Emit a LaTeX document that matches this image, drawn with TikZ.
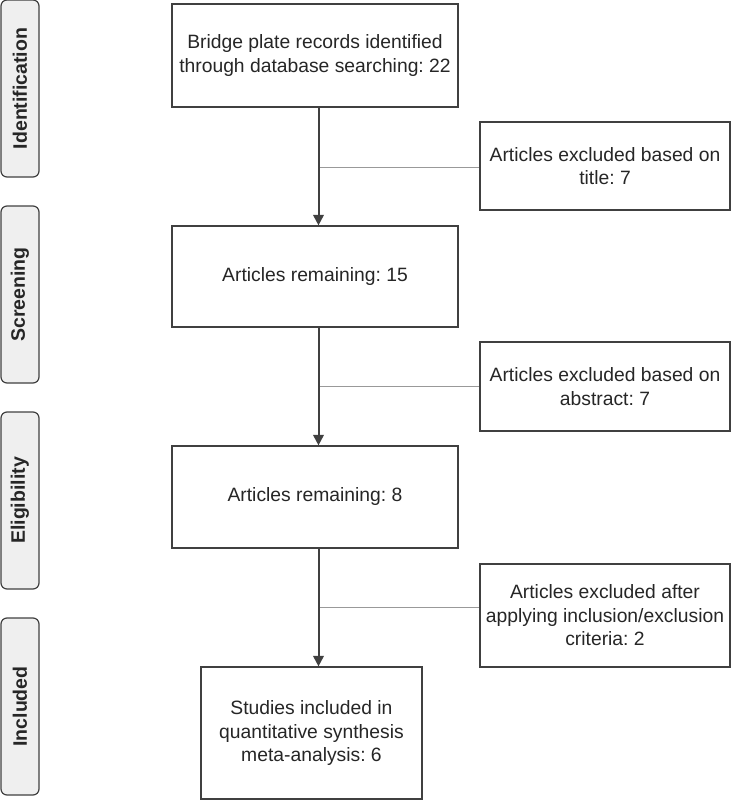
\documentclass[tikz,border=0pt]{standalone}
\usepackage{fontspec}
\setmainfont{Liberation Sans}
\usetikzlibrary{arrows.meta}
\definecolor{txt}{HTML}{262626}
\definecolor{edge}{HTML}{404040}
\definecolor{thin}{HTML}{999999}
\definecolor{barfill}{HTML}{EFEFEF}
\begin{document}
\frenchspacing
\begin{tikzpicture}[x=1pt,y=-1pt,
  mainbox/.style={draw=edge,line width=1.2pt,fill=white,text=txt,align=center,inner sep=0pt,
    font=\fontsize{19.3}{23.5}\selectfont\frenchspacing},
  sidebar/.style={draw=edge,line width=1.2pt,fill=barfill,rounded corners=6pt,text=txt,inner sep=0pt,
    minimum width=38pt,minimum height=177pt,font=\fontsize{19.5}{22}\selectfont\bfseries},
  flow/.style={draw=edge,line width=2pt,-{Triangle[length=10.5pt,width=10.5pt]}},
  link/.style={draw=thin,line width=1pt}]
\useasboundingbox (0,0) rectangle (731,800);
% phase bars
\node[sidebar] (bid) at (20,88.5) {\rotatebox{90}{Identification}};
\node[sidebar] (bsc) at (20,294.5) {\rotatebox{90}{Screening}};
\node[sidebar] (bel) at (20,500.5) {\rotatebox{90}{Eligibility}};
\node[sidebar] (bin) at (20,706.5) {\rotatebox{90}{Included}};
% main boxes
\node[mainbox,minimum width=286pt,minimum height=103pt] (b1) at (315,55.5)
  {Bridge plate records identified\\through database searching: 22};
\node[mainbox,minimum width=286pt,minimum height=101pt] (b2) at (315,276.5)
  {Articles remaining: 15};
\node[mainbox,minimum width=286pt,minimum height=102pt] (b3) at (315,497)
  {Articles remaining: 8};
\node[mainbox,minimum width=221pt,minimum height=132pt] (b4) at (311.5,733)
  {Studies included in\\quantitative synthesis\\meta-analysis: 6};
% exclusion boxes
\node[mainbox,minimum width=250pt,minimum height=88pt] (sa) at (605,166)
  {Articles excluded based on\\title: 7};
\node[mainbox,minimum width=250pt,minimum height=89pt] (sb) at (605,386.5)
  {Articles excluded based on\\abstract: 7};
\node[mainbox,minimum width=250pt,minimum height=103pt] (sc) at (605,615.5)
  {Articles excluded after\\applying inclusion/exclusion\\criteria: 2};
% connectors
\coordinate (ax) at (318.5,0);
\coordinate (ya) at (0,167);
\coordinate (yb) at (0,386);
\coordinate (yc) at (0,607);
\draw[link] (ax |- ya) -- (sa.west |- ya);
\draw[link] (ax |- yb) -- (sb.west |- yb);
\draw[link] (ax |- yc) -- (sc.west |- yc);
\draw[flow] (b1.south -| ax) -- (b2.north -| ax);
\draw[flow] (b2.south -| ax) -- (b3.north -| ax);
\draw[flow] (b3.south -| ax) -- (b4.north -| ax);
\end{tikzpicture}
\end{document}
